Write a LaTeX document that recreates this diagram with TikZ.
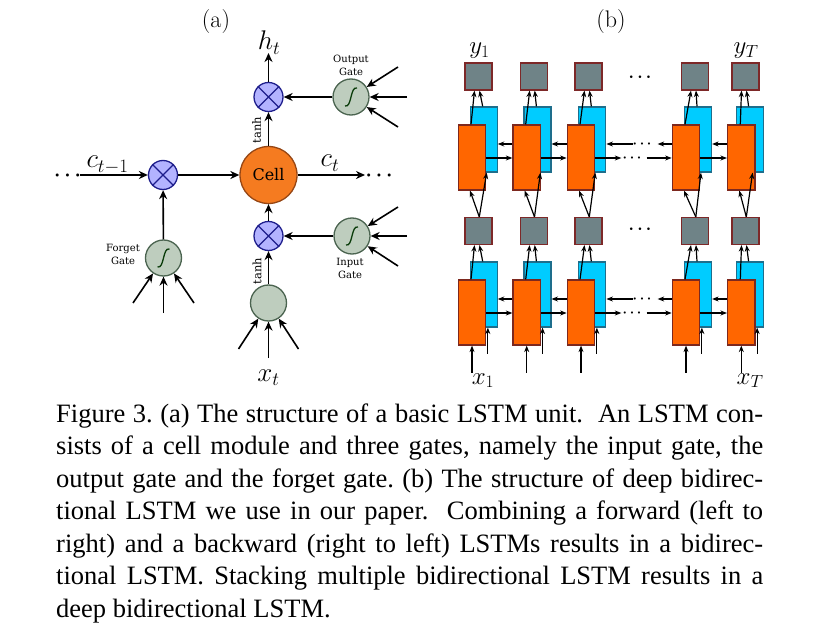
\documentclass[tikz,border=0pt]{standalone}
\usepackage{fix-cm}
\usepackage{fontspec}
\newfontfamily\capfont{Liberation Serif}
\newfontfamily\lblfont{DejaVu Serif}
\usetikzlibrary{arrows.meta}
\definecolor{multfill}{RGB}{179,179,255}
\definecolor{multdraw}{RGB}{30,30,140}
\definecolor{gatefill}{RGB}{190,205,190}
\definecolor{gatedraw}{RGB}{75,100,80}
\definecolor{sigcol}{RGB}{10,60,10}
\definecolor{cellfill}{RGB}{245,123,32}
\definecolor{celldraw}{RGB}{150,70,20}
\definecolor{sqfill}{RGB}{111,131,135}
\definecolor{sqdraw}{RGB}{125,40,40}
\definecolor{orfill}{RGB}{255,102,0}
\definecolor{ordraw}{RGB}{125,40,30}
\definecolor{blfill}{RGB}{0,204,255}
\definecolor{bldraw}{RGB}{30,110,140}
\begin{document}
\begin{tikzpicture}[x=1pt,y=-1pt,
  arr/.style={line width=1.6pt,-{Stealth[length=9pt,width=8pt]}},
  barr/.style={line width=1.2pt,-{Stealth[length=6.5pt,width=5pt]}},
  mult/.style={circle,minimum size=29pt,inner sep=0pt,fill=multfill,draw=multdraw,line width=1.3pt},
  gate/.style={circle,minimum size=36pt,inner sep=0pt,fill=gatefill,draw=gatedraw,line width=1.3pt},
  sig/.style={path picture={\draw[sigcol,line width=1.3pt,shift={(path picture bounding box.center)}] (-6,9) .. controls (1,11) and (-1,-11) .. (6,-9);}},
  cellnode/.style={circle,minimum size=57pt,inner sep=0pt,fill=cellfill,draw=celldraw,line width=1.3pt,font=\lblfont\fontsize{16}{19}\selectfont},
  glabel/.style={align=center,inner sep=0pt,font=\lblfont\fontsize{10}{13}\selectfont},
  tlabel/.style={rotate=90,inner sep=0pt,font=\lblfont\fontsize{11.5}{13}\selectfont},
  mlabel/.style={anchor=base,inner sep=0pt,font=\fontsize{27}{30}\selectfont},
  blabel/.style={anchor=base,inner sep=0pt,font=\fontsize{25}{28}\selectfont},
  title/.style={inner sep=0pt,font=\fontsize{24}{28}\selectfont},
  dotsa/.style={inner sep=0pt,font=\fontsize{20}{22}\selectfont\boldmath},
  dotsb/.style={inner sep=0pt,font=\fontsize{17}{18}\selectfont\boldmath},
  dotsc/.style={inner sep=0pt,font=\fontsize{14}{15}\selectfont\boldmath},
  sqbox/.style={rectangle,minimum width=27pt,minimum height=27pt,inner sep=0pt,fill=sqfill,draw=sqdraw,line width=1.2pt},
  orbox/.style={rectangle,minimum width=27.5pt,minimum height=65pt,inner sep=0pt,fill=orfill,draw=ordraw,line width=1.2pt},
  blbox/.style={rectangle,minimum width=27pt,minimum height=65pt,inner sep=0pt,fill=blfill,draw=bldraw,line width=1.2pt},
  capline/.style={anchor=base west,inner sep=0pt,font=\capfont\fontsize{26.5}{32.5}\selectfont\frenchspacing}
]
\fill[white] (0,0) rectangle (822,631);
\useasboundingbox (0,0) rectangle (822,631);

% ---------------- panel (a)
\node[title] (ta) at (216,22) {(a)};
\node[mult] (mo) at (268.5,97) {};
\node[gate,sig] (og) at (351,97) {};
\node[cellnode] (cell) at (268.5,175) {Cell};
\node[mult] (mf) at (163,175) {};
\node[gate,sig] (fg) at (163.5,258) {};
\node[mult] (mi) at (268.5,236) {};
\node[gate,sig] (ig) at (352,236) {};
\node[gate] (bc) at (268.5,303) {};
\foreach \m in {mo,mf,mi}{
  \draw[multdraw,line width=1.3pt] (\m.north west) -- (\m.south east) (\m.north east) -- (\m.south west);
}
\node[glabel] (ogl) at (351,65.5) {Output\\Gate};
\node[glabel] (fgl) at (123,254) {Forget\\Gate};
\node[glabel] (igl) at (350,268.5) {Input\\Gate};
\node[tlabel] (tanh1) at (256.5,130) {tanh};
\node[tlabel] (tanh2) at (257,271) {tanh};

\coordinate (ht) at (268.5,53);
\node[mlabel] (htl) at (269,50) {$h_t$};
\node[mlabel] (cl1) at (107.5,168) {$c_{t-1}$};
\node[mlabel] (ctl) at (330,167) {$c_t$};
\node[mlabel] (xtl) at (268.5,381) {$x_t$};
\node[dotsa] (dl) at (67.5,176) {$\cdots$};
\node[dotsa] (dr) at (379,176) {$\cdots$};
\coordinate (cin) at (80,175);
\coordinate (cout) at (365,175);

\draw[arr] (mo) -- (ht);
\draw[arr] (og) -- (mo);
\draw[arr] (cell) -- (mo);
\draw[arr] (cin) -- (mf);
\draw[arr] (mf) -- (cell);
\draw[arr] (cell) -- (cout);
\draw[arr] (fg) -- (mf);
\draw[arr] (mi) -- (cell);
\draw[arr] (ig) -- (mi);
\draw[arr] (bc) -- (mi);

\coordinate (oi1) at (398,67);
\coordinate (oi2) at (407,97);
\coordinate (oi3) at (398,127);
\coordinate (ii1) at (398,207);
\coordinate (ii2) at (407,236);
\coordinate (ii3) at (398,266);
\coordinate (fi1) at (133,303);
\coordinate (fi2) at (163.5,313);
\coordinate (fi3) at (194,303);
\coordinate (bi1) at (238.5,349);
\coordinate (bi2) at (268.5,358);
\coordinate (bi3) at (298.5,349);
\foreach \k in {1,2,3}{
  \draw[arr] (oi\k) -- (og);
  \draw[arr] (ii\k) -- (ig);
  \draw[arr] (fi\k) -- (fg);
  \draw[arr] (bi\k) -- (bc);
}

% ---------------- panel (b)
\node[title] (tb) at (611,22) {(b)};
\foreach \i/\x/\b/\s in {1/472/11.7/6.5,2/526.7/10.7/7,3/581/11.3/7.5,4/686/12/9,5/741.3/8.3/4.2}{
  \foreach \L/\yo in {T/157.5,B/312.5}{
    \node[blbox] (b\L\i) at (\x+\b,\yo-18) {};
    \node[orbox] (o\L\i) at (\x,\yo) {};
  }
  \node[sqbox] (sT\i) at (\x+\s,76.5) {};
  \node[sqbox] (sM\i) at (\x+\s,231) {};
}
\foreach \i in {1,...,5}{
  \draw[barr] ([xshift=-1pt]oT\i.north) -- ([xshift=-4pt]sT\i.south);
  \draw[barr] ([xshift=-1pt]bT\i.north) -- ([xshift=1pt]sT\i.south);
  \draw[barr] ([xshift=-1pt]oB\i.north) -- ([xshift=-4pt]sM\i.south);
  \draw[barr] ([xshift=-1pt]bB\i.north) -- ([xshift=1pt]sM\i.south);
  \draw[barr] ([xshift=0.8pt]sM\i.north) -- ([xshift=-2pt]oT\i.south);
  \draw[barr] ([xshift=0.8pt]sM\i.north) -- ([xshift=3pt]bT\i.south);
  \coordinate (io\i) at ([yshift=-27pt]oB\i.south);
  \coordinate (ib\i) at ([xshift=1.5pt,yshift=-8pt]oB\i.south east);
  \draw[barr] (io\i) -- (oB\i.south);
  \draw[barr] (ib\i) -- (ib\i |- bB\i.south);
}
\foreach \k/\n in {1/2,2/3,4/5}{
  \foreach \L in {T,B}{
    \draw[barr] ([yshift=13.5pt]o\L\n.west) -- ([yshift=-4.5pt]b\L\k.east);
    \draw[barr] ([yshift=-0.5pt]o\L\k.east) -- ([yshift=-0.5pt]o\L\n.west);
  }
}
\foreach \L/\yy in {T/157.5,B/312.5}{
  \coordinate (fa\L) at ([xshift=26pt,yshift=-0.5pt]o\L3.east);
  \coordinate (fb\L) at ([xshift=-25pt,yshift=-0.5pt]o\L4.west);
  \coordinate (ba\L) at ([xshift=-14pt,yshift=13.5pt]o\L4.west);
  \coordinate (bb\L) at ([xshift=27pt,yshift=-4.5pt]b\L3.east);
  \draw[barr] ([yshift=-0.5pt]o\L3.east) -- (fa\L);
  \draw[barr] (fb\L) -- ([yshift=-0.5pt]o\L4.west);
  \draw[barr] ([yshift=13.5pt]o\L4.west) -- (ba\L);
  \draw[barr] (bb\L) -- ([yshift=-4.5pt]b\L3.east);
  \node[dotsc] (fd\L) at (632,\yy+0.5) {$\cdots$};
  \node[dotsc] (bd\L) at (642,\yy-13.5) {$\cdots$};
}
\node[dotsb] (sdT) at (640,77) {$\cdots$};
\node[dotsb] (sdM) at (640,229) {$\cdots$};
\node[blabel] (y1) at (479.5,54) {$y_1$};
\node[blabel] (yT) at (746,54) {$y_T$};
\node[blabel] (x1) at (483,384) {$x_1$};
\node[blabel] (xT) at (750,384) {$x_T$};

% ---------------- caption
\node[capline] (cap1) at (56,422) {\makebox[707pt][s]{Figure 3. (a) The structure of a basic LSTM unit.\ \ An LSTM con-}};
\node[capline] (cap2) at (56,454.5) {\makebox[707pt][s]{sists of a cell module and three gates, namely the input gate, the}};
\node[capline] (cap3) at (56,487) {\makebox[707pt][s]{output gate and the forget gate. (b) The structure of deep bidirec-}};
\node[capline] (cap4) at (56,519.5) {\makebox[707pt][s]{tional LSTM we use in our paper.\ \ Combining a forward (left to}};
\node[capline] (cap5) at (56,552) {\makebox[707pt][s]{right) and a backward (right to left) LSTMs results in a bidirec-}};
\node[capline] (cap6) at (56,584.5) {\makebox[707pt][s]{tional LSTM. Stacking multiple bidirectional LSTM results in a}};
\node[capline] (cap7) at (56,617) {deep bidirectional LSTM.};
\end{tikzpicture}
\end{document}
